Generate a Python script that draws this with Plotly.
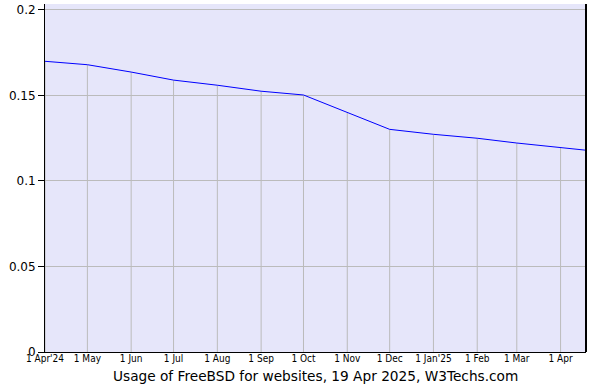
import plotly.graph_objects as go

dates = ["2024-04-01", "2024-05-01", "2024-06-01", "2024-07-01", "2024-08-01",
         "2024-09-01", "2024-10-01", "2024-11-01", "2024-12-01", "2025-01-01",
         "2025-02-01", "2025-03-01", "2025-04-01", "2025-04-19"]
usage = [0.170, 0.168, 0.1637, 0.159, 0.156, 0.1525, 0.1503, 0.140, 0.1302,
         0.1273, 0.125, 0.1222, 0.1197, 0.118]

tick_dates = dates[:13]
tick_labels = ["1 Apr'24", "1 May", "1 Jun", "1 Jul", "1 Aug", "1 Sep", "1 Oct",
               "1 Nov", "1 Dec", "1 Jan'25", "1 Feb", "1 Mar", "1 Apr"]

y_ticks = [0, 0.05, 0.1, 0.15, 0.2]
y_labels = ["0", "0.05", "0.1", "0.15", "0.2"]

title_text = "Usage of FreeBSD for websites, 19 Apr 2025, W3Techs.com"

fig = go.Figure()

# drop lines from each monthly point to the axis
fig.add_trace(go.Scatter(
    x=tick_dates, y=usage[:13], mode="markers",
    marker=dict(size=0.1, color="rgba(0,0,0,0)"),
    error_y=dict(type="data", symmetric=False, array=[0] * 13,
                 arrayminus=usage[:13], width=0, thickness=1, color="#bbbbbb"),
    hoverinfo="skip", showlegend=False,
))

fig.add_trace(go.Scatter(
    x=dates, y=usage, mode="lines",
    line=dict(color="#0000ff", width=1),
    showlegend=False,
))

fig.update_layout(
    width=596, height=388,
    margin=dict(l=45, r=10, t=4, b=36),
    paper_bgcolor="white",
    plot_bgcolor="#e6e6fa",
    font=dict(family="DejaVu Sans", color="#000000"),
    xaxis=dict(
        range=["2024-04-01", "2025-04-19"],
        tickvals=tick_dates, ticktext=tick_labels,
        tickfont=dict(family="DejaVu Sans Condensed", size=10),
        showgrid=False, zeroline=False,
        showline=True, linecolor="black", linewidth=1,
        ticks="", ticklen=0, ticklabelstandoff=-3,
    ),
    yaxis=dict(
        range=[0, 0.2035],
        tickvals=y_ticks, ticktext=y_labels,
        tickfont=dict(family="DejaVu Sans", size=12),
        showgrid=True, gridcolor="#bbbbbb", gridwidth=1,
        zeroline=False,
        showline=True, linecolor="black", linewidth=1,
        ticks="outside", ticklen=6, tickcolor="black",
    ),
    shapes=[dict(type="line", xref="paper", yref="paper", x0=1, x1=1, y0=0, y1=1,
                 line=dict(color="black", width=2))],
    annotations=[dict(text=title_text, xref="paper", yref="paper", x=0.5, y=0,
                      yshift=-24, yanchor="middle", xanchor="center", showarrow=False,
                      font=dict(family="DejaVu Sans", size=13.7))],
)

fig.write_html("out.html")
